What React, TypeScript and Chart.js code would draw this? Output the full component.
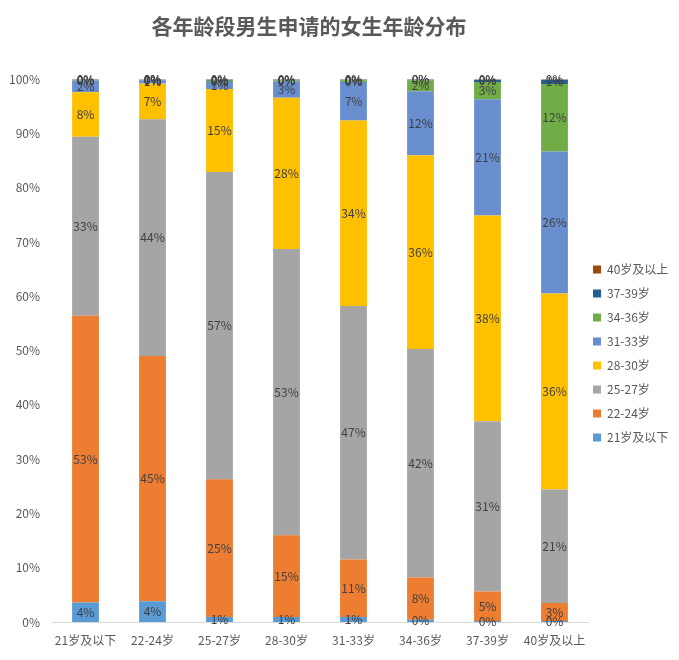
import React, { useEffect, useRef } from "react";
import { Chart, registerables } from "chart.js";

Chart.register(...registerables);

const FONT = "'Noto Sans CJK SC', 'Noto Sans', sans-serif";

const categories = ["21岁及以下", "22-24岁", "25-27岁", "28-30岁", "31-33岁", "34-36岁", "37-39岁", "40岁及以上"];
const seriesNames = ["21岁及以下", "22-24岁", "25-27岁", "28-30岁", "31-33岁", "34-36岁", "37-39岁", "40岁及以上"];

const age21 = [3.6, 3.8, 0.9, 0.9, 0.9, 0.4, 0.2, 0.2];
const age22 = [52.8, 45.2, 25.4, 15.1, 10.6, 7.8, 5.4, 3.3];
const age25 = [33.0, 43.6, 56.6, 52.7, 46.7, 42.1, 31.4, 20.9];
const age28 = [8.2, 6.6, 15.3, 27.9, 34.2, 35.7, 37.9, 36.1];
const age31 = [2.1, 0.6, 1.3, 3.0, 7.1, 11.8, 21.4, 26.2];
const age34 = [0.1, 0.1, 0.2, 0.2, 0.3, 2.0, 3.2, 12.4];
const age37 = [0.1, 0.05, 0.2, 0.1, 0.1, 0.15, 0.4, 0.8];
const age40 = [0.1, 0.05, 0.1, 0.1, 0.1, 0.05, 0.1, 0.1];

const seriesValues = [age21, age22, age25, age28, age31, age34, age37, age40];
const seriesColors = ["#5B9BD5", "#ED7D31", "#A5A5A5", "#FFC000", "#698ED0", "#70AD47", "#255E91", "#9E480E"];

const yTickStep = 10;
const yMax = 100;

const segLabels = {
  id: "segLabels",
  afterDatasetsDraw(chart: any) {
    const ctx = chart.ctx;
    ctx.save();
    ctx.font = `12px ${FONT}`;
    ctx.fillStyle = "#404040";
    ctx.textAlign = "center";
    ctx.textBaseline = "middle";
    chart.data.datasets.forEach((ds: any, i: number) => {
      const meta = chart.getDatasetMeta(i);
      meta.data.forEach((el: any, j: number) => {
        const v = ds.data[j];
        const y = (el.y + el.base) / 2;
        ctx.fillText(Math.round(v) + "%", el.x, y);
      });
    });
    ctx.restore();
  },
};

const shiftBoxes = {
  id: "shiftBoxes",
  afterLayout(chart: any) {
    if (chart.legend) {
      chart.legend.left -= 7;
      chart.legend.top += 3;
      chart.legend.bottom += 3;
    }
    if (chart.titleBlock) {
      chart.titleBlock.left -= 11;
      chart.titleBlock.right -= 11;
    }
  },
};

export default function App() {
  const ref = useRef<HTMLCanvasElement | null>(null);
  useEffect(() => {
    if (!ref.current) return;
    const chart = new Chart(ref.current, {
      type: "bar",
      data: {
        labels: categories,
        datasets: seriesNames.map((name, i) => ({
          label: name,
          data: seriesValues[i],
          backgroundColor: seriesColors[i],
          borderWidth: 0,
          barPercentage: 1,
          categoryPercentage: 0.4,
        })),
      },
      options: {
        animation: false,
        responsive: true,
        maintainAspectRatio: false,
        layout: { padding: { left: 0, right: 0, top: 0, bottom: 0 } },
        plugins: {
          title: {
            display: true,
            text: "各年龄段男生申请的女生年龄分布",
            color: "#595959",
            font: { family: FONT, size: 21, weight: "bold" },
            padding: { top: 5, bottom: 41 },
            fullSize: false,
          },
          legend: {
            position: "right",
            reverse: true,
            fullSize: false,
            maxWidth: 83,
            labels: {
              boxWidth: 8,
              boxHeight: 8,
              padding: 12,
              color: "#595959",
              font: { family: FONT, size: 12 },
            },
          },
          tooltip: { enabled: false },
        },
        scales: {
          x: {
            stacked: true,
            grid: { display: false, drawTicks: false },
            border: { display: true, color: "#D9D9D9" },
            ticks: { color: "#595959", font: { family: FONT, size: 12 }, padding: 11, maxRotation: 0 },
            afterFit: (s: any) => {
              s.height = 30;
            },
          },
          y: {
            stacked: true,
            min: 0,
            max: yMax,
            grid: { display: false, drawTicks: false },
            border: { display: false },
            ticks: {
              stepSize: yTickStep,
              color: "#595959",
              font: { family: FONT, size: 12 },
              padding: 12,
              callback: (v: any) => v + "%",
            },
            afterFit: (s: any) => {
              s.width = 44;
            },
          },
        },
      },
      plugins: [segLabels, shiftBoxes],
    });
    return () => chart.destroy();
  }, []);
  return (
    <div style={{ width: 663, height: 644, position: "relative" }}>
      <canvas ref={ref} />
    </div>
  );
}
